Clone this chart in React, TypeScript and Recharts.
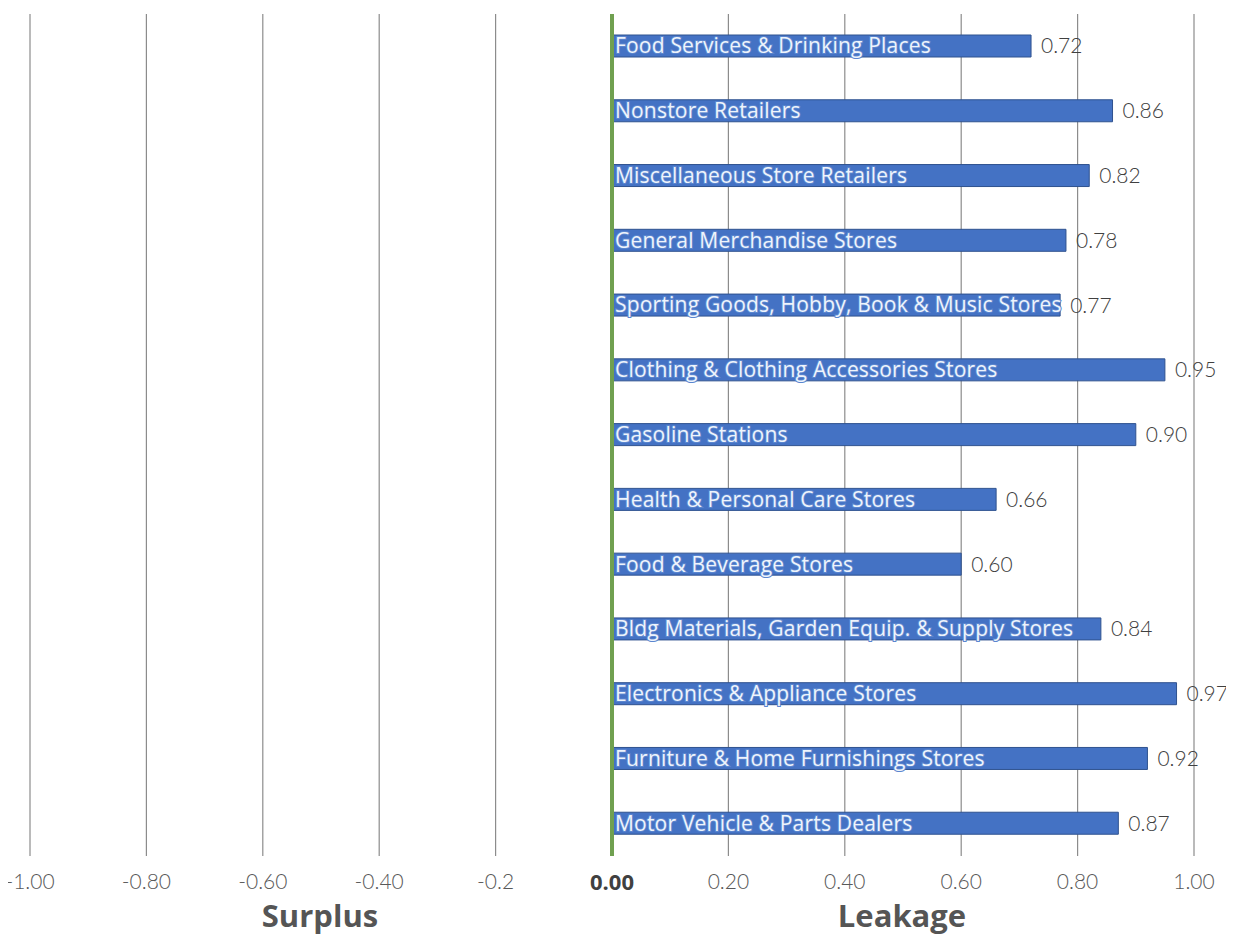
import { BarChart, Bar, XAxis, YAxis, CartesianGrid, ReferenceLine, LabelList } from 'recharts'

const categories = [
  'Food Services & Drinking Places',
  'Nonstore Retailers',
  'Miscellaneous Store Retailers',
  'General Merchandise Stores',
  'Sporting Goods, Hobby, Book & Music Stores',
  'Clothing & Clothing Accessories Stores',
  'Gasoline Stations',
  'Health & Personal Care Stores',
  'Food & Beverage Stores',
  'Bldg Materials, Garden Equip. & Supply Stores',
  'Electronics & Appliance Stores',
  'Furniture & Home Furnishings Stores',
  'Motor Vehicle & Parts Dealers',
]

const leakage = [0.72, 0.86, 0.82, 0.78, 0.77, 0.95, 0.9, 0.66, 0.6, 0.84, 0.97, 0.92, 0.87]

const tickValues = [-1, -0.8, -0.6, -0.4, -0.2, 0, 0.2, 0.4, 0.6, 0.8, 1]
const tickLabels = ['-1.00', '-0.80', '-0.60', '-0.40', '-0.2', '0.00', '0.20', '0.40', '0.60', '0.80', '1.00']

const data = categories.map((name, i) => ({ name, value: leakage[i] }))

const FONT = 'Lato, "Open Sans", sans-serif'
const WIDE = '"Open Sans", Lato, sans-serif'

function AxisTick(props: any) {
  const { x, y, payload, index } = props
  const isZero = payload.value === 0
  return (
    <text
      x={x}
      y={y}
      dy="0.71em"
      textAnchor="middle"
      fontFamily={isZero ? WIDE : FONT}
      fontSize={isZero ? 22 : 21}
      fontWeight={isZero ? 700 : 300}
      fill={isZero ? '#404040' : '#595959'}
    >
      {tickLabels[index] ?? payload.value}
    </text>
  )
}

function NameLabel(props: any) {
  const { x, y, height, value } = props
  return (
    <text
      x={x + 3}
      y={y + height / 2}
      dy="0.35em"
      fontFamily={WIDE}
      fontSize={21}
      letterSpacing={0.2}
      fill="#eef4fc"
      stroke="#5b86cf"
      strokeWidth={2}
      paintOrder="stroke"
    >
      {value}
    </text>
  )
}

const titleStyle = {
  position: 'absolute' as const,
  width: 200,
  top: 898,
  textAlign: 'center' as const,
  fontFamily: WIDE,
  fontWeight: 700,
  fontSize: 31,
  color: '#555555',
  lineHeight: '34px',
}

export default function App() {
  return (
    <div style={{ position: 'relative', width: 1234, height: 937, margin: '-8px 0 0 -8px', background: '#fff', overflow: 'hidden' }}>
      <BarChart
        width={1234}
        height={937}
        data={data}
        layout="vertical"
        margin={{ top: 14, right: 40, bottom: 0, left: 30 }}
        barSize={22}
      >
        <CartesianGrid horizontal={false} stroke="#8c8c8c" strokeWidth={1.2} />
        <XAxis
          type="number"
          domain={[-1, 1]}
          ticks={tickValues}
          axisLine={false}
          tickLine={false}
          tickSize={0}
          tickMargin={18}
          height={81}
          tick={<AxisTick />}
          interval={0}
        />
        <YAxis type="category" dataKey="name" hide />
        <Bar dataKey="value" fill="#4472c4" stroke="#2f528f" strokeWidth={1} isAnimationActive={false}>
          <LabelList dataKey="name" content={<NameLabel />} />
          <LabelList
            dataKey="value"
            position="right"
            offset={10}
            formatter={(v: any) => Number(v).toFixed(2)}
            style={{ fontFamily: FONT, fontSize: 21, fontWeight: 300, fill: '#404040' }}
          />
        </Bar>
        <ReferenceLine x={0} stroke="#70a050" strokeWidth={4} />
      </BarChart>
      <div style={{ ...titleStyle, left: 220 }}>Surplus</div>
      <div style={{ ...titleStyle, left: 802 }}>Leakage</div>
    </div>
  )
}
